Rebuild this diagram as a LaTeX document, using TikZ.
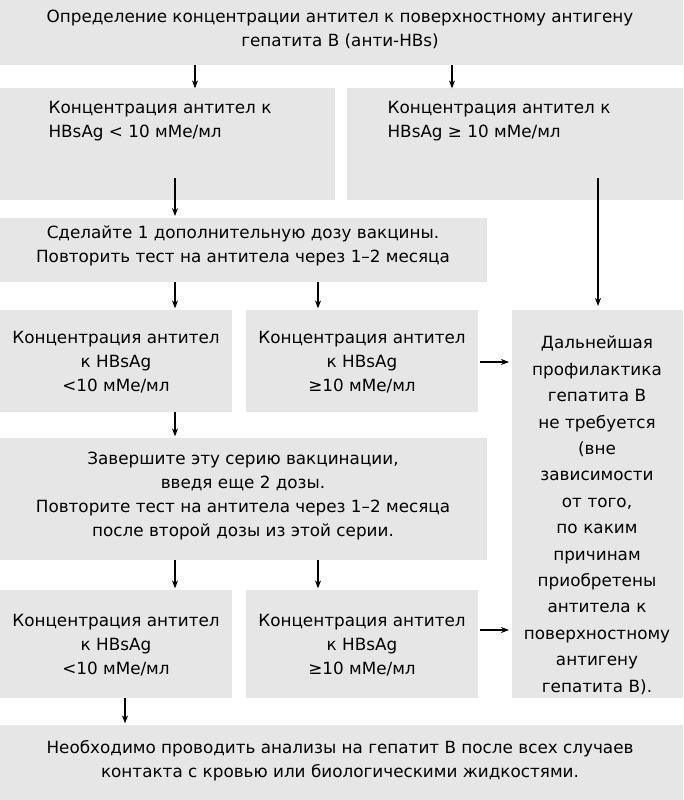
\documentclass[tikz,border=0pt]{standalone}
\usepackage{fontspec}
\setmainfont{DejaVu Sans}
\usetikzlibrary{arrows.meta}
\definecolor{bx}{HTML}{E6E6E6}
\begin{document}
\begin{tikzpicture}[x=1pt,y=-1pt,
  box/.style={fill=bx,draw=none,inner sep=0pt,anchor=north west},
  txt/.style={align=center,font=\fontsize{16.8}{24}\selectfont,inner sep=0pt,anchor=north},
  arr/.style={-{Stealth[length=8pt,width=6pt]},line width=1.1pt}]
\fill[white] (0,0) rectangle (683,800);
\path[use as bounding box] (0,0) rectangle (683,800);
\node[box,minimum width=683,minimum height=65] (b1) at (0,0) {};
\node[box,minimum width=335,minimum height=112] (b2) at (0,88) {};
\node[box,minimum width=336,minimum height=112] (b3) at (347,88) {};
\node[box,minimum width=487,minimum height=64] (b4) at (0,218) {};
\node[box,minimum width=232,minimum height=102] (b5) at (0,310) {};
\node[box,minimum width=232,minimum height=102] (b6) at (246,310) {};
\node[box,minimum width=171,minimum height=388] (b7) at (512,310) {};
\node[box,minimum width=487,minimum height=122] (b8) at (0,438) {};
\node[box,minimum width=232,minimum height=108] (b9) at (0,590) {};
\node[box,minimum width=232,minimum height=108] (b10) at (246,590) {};
\node[box,minimum width=683,minimum height=75] (b11) at (0,725) {};

\node[txt] (t1) at (340,10) {Определение концентрации антител к поверхностному антигену\\гепатита В (анти-HBs)};
\node[txt,align=left] (t2) at (160,101) {Концентрация антител к\\HBsAg < 10 мМе/мл};
\node[txt,align=left] (t3) at (499,101) {Концентрация антител к\\HBsAg ≥ 10 мМе/мл};
\node[txt] (t4) at (243,226) {Сделайте 1 дополнительную дозу вакцины.\\Повторить тест на антитела через 1–2 месяца};
\node[txt] (t5) at (116,331) {Концентрация антител\\к HBsAg\\<10 мМе/мл};
\node[txt] (t6) at (362,331) {Концентрация антител\\к HBsAg\\≥10 мМе/мл};
\node[txt,text width=168,font=\fontsize{16.8}{26.4}\selectfont] (t7) at (597,336) {Дальнейшая\\профилактика\\гепатита В\\не требуется\\(вне\\зависимости\\от того,\\по каким\\причинам\\приобретены\\антитела к\\поверхностному\\антигену\\гепатита В).};
\node[txt] (t8) at (243,452) {Завершите эту серию вакцинации,\\введя еще 2 дозы.\\Повторите тест на антитела через 1–2 месяца\\после второй дозы из этой серии.};
\node[txt] (t9) at (116,614) {Концентрация антител\\к HBsAg\\<10 мМе/мл};
\node[txt] (t10) at (362,614) {Концентрация антител\\к HBsAg\\≥10 мМе/мл};
\node[txt] (t11) at (340,740) {Необходимо проводить анализы на гепатит В после всех случаев\\контакта с кровью или биологическими жидкостями.};

\draw[arr] (b1.south west)++(195,0) -- ++(0,23);
\draw[arr] (b1.south west)++(452,0) -- ++(0,23);
\draw[arr] (175,178) -- (175,216);
\draw[arr] (598,178) -- (598,306);
\draw[arr] (b4.south west)++(175,0) -- ++(0,26);
\draw[arr] (b4.south west)++(318,0) -- ++(0,26);
\draw[arr] (480,362) -- (509,362);
\draw[arr] (b5.south west)++(175,0) -- ++(0,24);
\draw[arr] (b8.south west)++(175,0) -- ++(0,28);
\draw[arr] (b8.south west)++(318,0) -- ++(0,28);
\draw[arr] (480,630) -- (509,630);
\draw[arr] (b9.south west)++(125,0) -- ++(0,25);
\end{tikzpicture}
\end{document}
